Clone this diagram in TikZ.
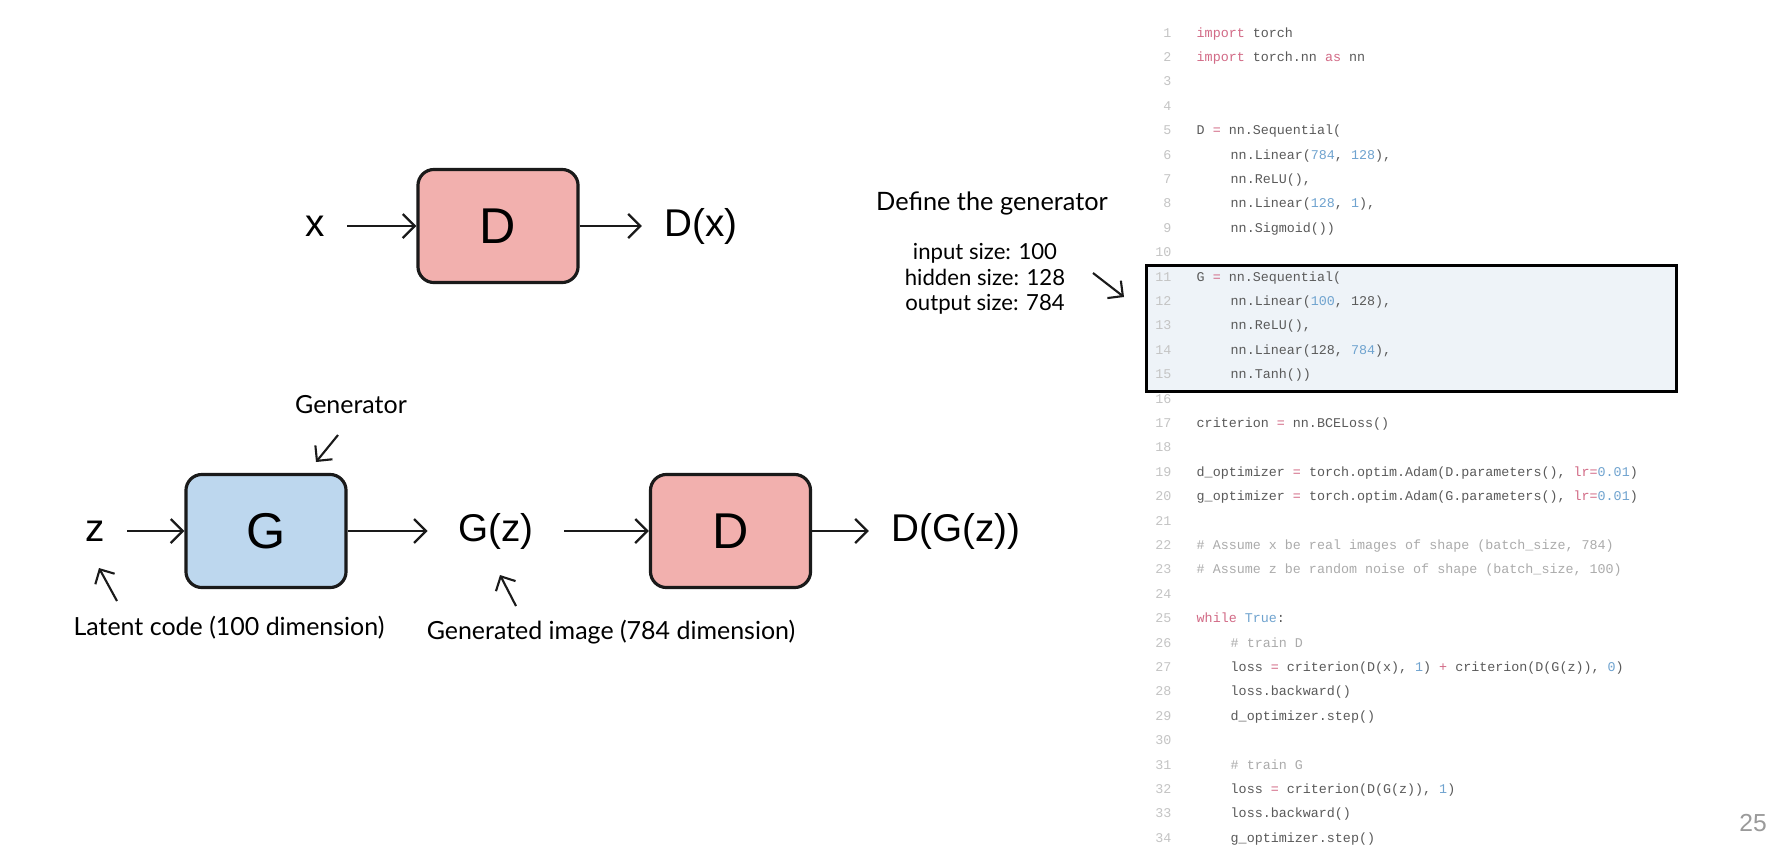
\documentclass[tikz,border=0pt]{standalone}
\usepackage{fontspec}
\setmainfont{Lato}
\setsansfont{Liberation Sans}
\setmonofont{Liberation Mono}
\usepackage{xcolor}
\definecolor{cPink}{HTML}{F2B0AE}
\definecolor{cBlue}{HTML}{BDD7EE}
\definecolor{cEdge}{HTML}{1A1A1A}
\definecolor{cPanel}{HTML}{EEF3F8}
\definecolor{cCode}{HTML}{5A5A5A}
\definecolor{cLineNo}{HTML}{C4C4C4}
\definecolor{cKey}{HTML}{D26A86}
\definecolor{cNum}{HTML}{6FA3CF}
\definecolor{cCmt}{HTML}{ABABAB}
\definecolor{cPage}{HTML}{9A9A9A}
\usepackage{tikz}
\usetikzlibrary{positioning,arrows.meta,calc}
\tikzset{
  net-box/.style={draw=cEdge,line width=0.9pt,rounded corners=0.16cm,
    minimum width=1.6cm,minimum height=1.13cm,inner sep=0pt,
    font=\sffamily\fontsize{14.3}{16}\selectfont},
  net-d/.style={fill=cPink},
  net-g/.style={fill=cBlue},
  sig/.style={inner xsep=0.22cm,inner ysep=0pt,
    font=\sffamily\fontsize{11}{13}\selectfont},
  note/.style={inner sep=0pt,align=center,font=\fontsize{7.1}{8}\selectfont},
  flow/.style={-{Straight Barb[length=1.2mm,width=2.4mm]},line width=0.65pt,draw=cEdge},
  note-arrow/.style={-{Straight Barb[length=1.1mm,width=2.2mm]},line width=0.6pt,draw=cEdge},
  code-no/.style={anchor=base east,inner sep=0pt,text=cLineNo,
    font=\ttfamily\fontsize{3.8}{4.5}\selectfont},
  code-ln/.style={anchor=base west,inner sep=0pt,text=cCode,
    font=\ttfamily\fontsize{3.8}{4.5}\selectfont},
  code-hl/.style={draw=black,line width=0.85pt,fill=cPanel},
}
\newcommand{\ckw}[1]{\textcolor{cKey}{#1}}
\newcommand{\cnum}[1]{\textcolor{cNum}{#1}}
\newcommand{\ccmt}[1]{\textcolor{cCmt}{#1}}

\begin{document}
\begin{tikzpicture}[x=0.01cm,y=-0.01cm]
  \fill[white] (0,0) rectangle (1777,857);
  \useasboundingbox (0,0) rectangle (1777,857);

  % discriminator on real data
  \node[net-box,net-d]       (d1)  at (498,226) {D};
  \node[sig]                 (x1)  at (315,226) {x};
  \node[sig]                 (dx)  at (701,226) {D(x)};
  \draw[flow] (x1) -- (d1);
  \draw[flow] (d1) -- (dx);

  % generator followed by discriminator
  \node[net-box,net-g]       (g)   at (266,531) {G};
  \node[net-box,net-d]       (d2)  at (730.5,531) {D};
  \node[sig]                 (z)   at (95,531) {z};
  \node[sig,inner xsep=0.3cm] (gz) at (496,531) {G(z)};
  \node[sig]                 (dgz) at (956,531) {D(G(z))};
  \draw[flow] (z) -- (g);
  \draw[flow] (g) -- (gz);
  \draw[flow] (gz) -- (d2);
  \draw[flow] (d2) -- (dgz);

  % annotations
  \node[note] (gen)    at (351,405) {Generator};
  \node[note] (latent) at (229,628) {Latent code (100 dimension)};
  \node[note] (genimg) at (611,632) {Generated image (784 dimension)};
  \coordinate (gen-a) at (338,435);  \coordinate (gen-b) at (316,462);
  \coordinate (lat-a) at (117,601);  \coordinate (lat-b) at (99,568);
  \coordinate (img-a) at (516,606);  \coordinate (img-b) at (500,575);
  \draw[note-arrow] (gen-a) -- (gen-b);
  \draw[note-arrow] (lat-a) -- (lat-b);
  \draw[note-arrow] (img-a) -- (img-b);

  \node[note,font=\fontsize{7.2}{8}\selectfont] (defg) at (992,203) {Define the generator};
  \node[note,font=\fontsize{6.3}{7.3}\selectfont] (sizes) at (985,279)
    {input size: 100\\hidden size: 128\\output size: 784};
  \coordinate (def-a) at (1093,273); \coordinate (def-b) at (1124,297);
  \draw[note-arrow] (def-a) -- (def-b);

  % code listing
  \draw[code-hl] (1146,265) rectangle (1676,391);
  \foreach \i in {1,...,34}
    \node[code-no] (n\i) at (1172,{37+(\i-1)*24.4}) {\i};
  \coordinate (cx0) at (1196,0);
  \coordinate (cx1) at (1230,0);
  \node[code-ln] (c1)  at (n1.base -| cx0)  {\ckw{import} torch};
  \node[code-ln] (c2)  at (n2.base -| cx0)  {\ckw{import} torch.nn \ckw{as} nn};
  \node[code-ln] (c5)  at (n5.base -| cx0)  {D \ckw{=} nn.Sequential(};
  \node[code-ln] (c6)  at (n6.base -| cx1)  {nn.Linear(\cnum{784}, \cnum{128}),};
  \node[code-ln] (c7)  at (n7.base -| cx1)  {nn.ReLU(),};
  \node[code-ln] (c8)  at (n8.base -| cx1)  {nn.Linear(\cnum{128}, \cnum{1}),};
  \node[code-ln] (c9)  at (n9.base -| cx1)  {nn.Sigmoid())};
  \node[code-ln] (c11) at (n11.base -| cx0) {G \ckw{=} nn.Sequential(};
  \node[code-ln] (c12) at (n12.base -| cx1) {nn.Linear(\cnum{100}, 128),};
  \node[code-ln] (c13) at (n13.base -| cx1) {nn.ReLU(),};
  \node[code-ln] (c14) at (n14.base -| cx1) {nn.Linear(128, \cnum{784}),};
  \node[code-ln] (c15) at (n15.base -| cx1) {nn.Tanh())};
  \node[code-ln] (c17) at (n17.base -| cx0) {criterion \ckw{=} nn.BCELoss()};
  \node[code-ln] (c19) at (n19.base -| cx0) {d\_optimizer \ckw{=} torch.optim.Adam(D.parameters(), \ckw{lr=}\cnum{0.01})};
  \node[code-ln] (c20) at (n20.base -| cx0) {g\_optimizer \ckw{=} torch.optim.Adam(G.parameters(), \ckw{lr=}\cnum{0.01})};
  \node[code-ln] (c22) at (n22.base -| cx0) {\ccmt{\# Assume x be real images of shape (batch\_size, 784)}};
  \node[code-ln] (c23) at (n23.base -| cx0) {\ccmt{\# Assume z be random noise of shape (batch\_size, 100)}};
  \node[code-ln] (c25) at (n25.base -| cx0) {\ckw{while} \cnum{True}:};
  \node[code-ln] (c26) at (n26.base -| cx1) {\ccmt{\# train D}};
  \node[code-ln] (c27) at (n27.base -| cx1) {loss \ckw{=} criterion(D(x), \cnum{1}) \ckw{+} criterion(D(G(z)), \cnum{0})};
  \node[code-ln] (c28) at (n28.base -| cx1) {loss.backward()};
  \node[code-ln] (c29) at (n29.base -| cx1) {d\_optimizer.step()};
  \node[code-ln] (c31) at (n31.base -| cx1) {\ccmt{\# train G}};
  \node[code-ln] (c32) at (n32.base -| cx1) {loss \ckw{=} criterion(D(G(z)), \cnum{1})};
  \node[code-ln] (c33) at (n33.base -| cx1) {loss.backward()};
  \node[code-ln] (c34) at (n34.base -| cx1) {g\_optimizer.step()};

  \node[font=\sffamily\fontsize{7}{8}\selectfont,text=cPage] (pg) at (1753,823) {25};
\end{tikzpicture}
\end{document}
